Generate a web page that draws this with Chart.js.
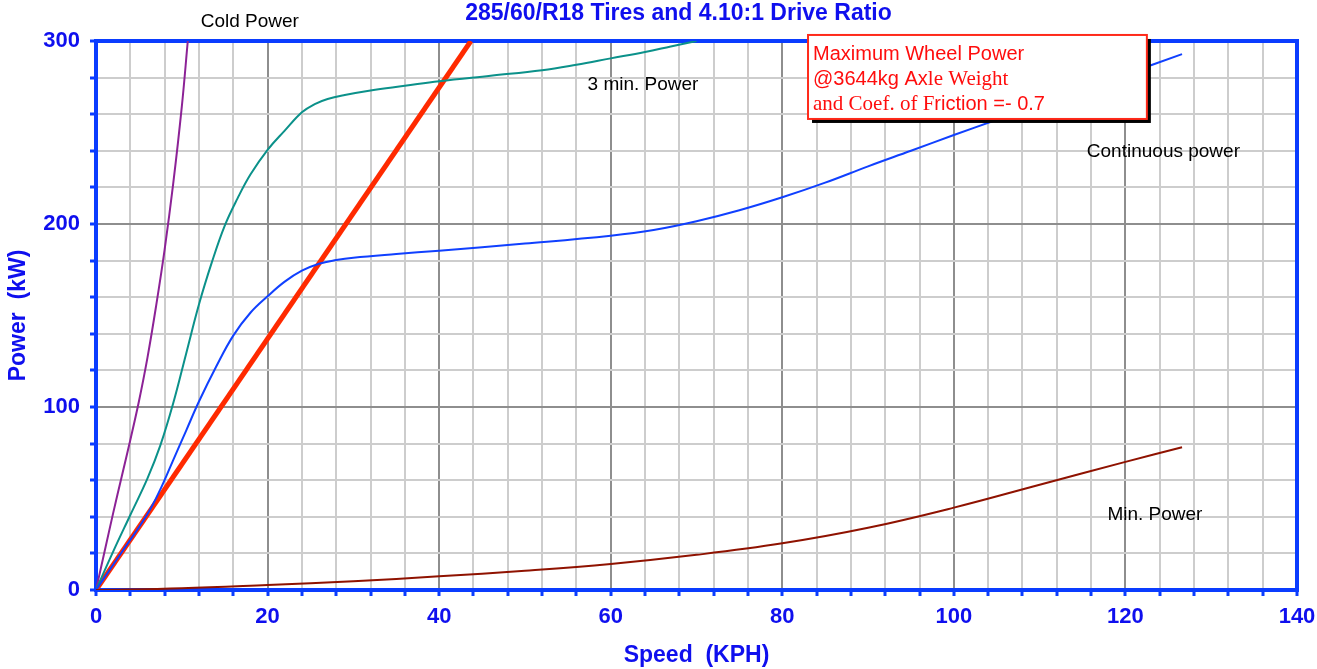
<!DOCTYPE html>
<html>
<head>
<meta charset="utf-8">
<title>Wheel Power vs Speed</title>
<script src="https://cdn.jsdelivr.net/npm/chart.js@4/dist/chart.umd.min.js"></script>
<style>
  html, body { margin: 0; padding: 0; background: #fff; }
</style>
</head>
<body>
<canvas id="powerChart" width="1317" height="669"></canvas>
<script>
// speed (KPH) / power (kW) pairs for each curve
const coldSpeed = [0, 1, 2, 3, 4, 5, 6, 7, 8, 9, 10, 10.7]
const coldPower = [0, 21, 42, 62, 82, 103, 127, 155, 186, 222, 264, 300]

const threeMinSpeed = [0, 2, 4, 6, 7.5, 9, 10.5, 12, 13.5, 15, 16.5, 18, 20, 22, 24, 25.5, 27, 29, 32, 36, 40, 46, 52, 56, 60, 64, 67, 70]
const threeMinPower = [0, 21, 41, 61, 79, 102, 129, 156, 179, 199, 214, 227, 240.5, 251, 261, 265.5, 268.3, 270.5, 273, 275.5, 278, 281, 284, 287, 290.5, 294, 297, 300]

const contSpeed = [0, 3, 6, 7.5, 9, 10.5, 12, 14, 16, 18, 20, 22, 24, 26, 28, 30, 35, 40, 50, 60, 65, 70, 75, 80, 85, 90, 95, 100, 105, 110, 115, 120, 126.6]
const contPower = [0, 20.6, 41.5, 55, 71, 87, 103, 122, 139, 151.5, 160.5, 168.5, 174.5, 178.3, 180.3, 181.6, 183.6, 185.4, 189.3, 193.6, 196.7, 201.5, 207.5, 214.6, 222.6, 231.5, 240, 248.6, 257, 265.3, 273.5, 281.8, 292.8]

const minSpeed = [0, 10, 20, 30, 40, 50, 60, 70, 80, 90, 100, 110, 120, 126.6]
const minPower = [0, 1, 2.8, 4.8, 7.5, 10.5, 14.2, 19.2, 25.5, 34, 45, 57.5, 70, 78]

// traction limit: 3644 kg axle weight, friction 0.7
const wheelSpeed = [0, 43.7]
const wheelPower = [0, 300]

const xTicks = [0, 20, 40, 60, 80, 100, 120, 140]
const yTicks = [0, 100, 200, 300]

const chartTitle = '285/60/R18 Tires and 4.10:1 Drive Ratio'

// curve names placed near the curves (x, y in axis units)
const curveLabels = [
    { text: 'Cold Power', x: 12.2, y: 307.5 },
    { text: '3 min. Power', x: 57.3, y: 273.2 },
    { text: 'Continuous power', x: 115.5, y: 236.6 },
    { text: 'Min. Power', x: 117.9, y: 38.3 }
]

const SANS = '"Liberation Sans", Arial, Helvetica, sans-serif'
const SERIF = '"Liberation Serif", "Times New Roman", serif'
const AXIS_BLUE = '#0a3cff'
const TEXT_BLUE = '#0f0fee'

function toPoints(xs, ys){
    let pts = []
    for(let i = 0; i < xs.length; i++){
        pts.push({ x: xs[i], y: ys[i] })
    }
    return pts
}

function curve(data, color, width, tension){
    return {
        data: data,
        borderColor: color,
        borderWidth: width,
        pointRadius: 0,
        fill: false,
        tension: tension
    }
}

// draws a line of text made of runs in different fonts
function drawRuns(ctx, x, y, runs){
    let cx = x
    runs.forEach(r => {
        ctx.font = r.font
        ctx.fillText(r.text, cx, y)
        cx += ctx.measureText(r.text).width
    })
}

const decorations = {
    id: 'decorations',
    beforeDatasetsDraw(chart){
        const { ctx, chartArea } = chart
        // top and right edges of the frame
        ctx.save()
        ctx.strokeStyle = AXIS_BLUE
        ctx.lineWidth = 4
        ctx.beginPath()
        ctx.moveTo(chartArea.left - 2, chartArea.top)
        ctx.lineTo(chartArea.right, chartArea.top)
        ctx.lineTo(chartArea.right, chartArea.bottom + 2)
        ctx.stroke()
        ctx.restore()
    },
    afterDatasetsDraw(chart){
        const { ctx, scales } = chart
        const xs = scales.x
        const ys = scales.y
        ctx.save()

        ctx.fillStyle = TEXT_BLUE
        ctx.font = 'bold 23px ' + SANS
        ctx.textAlign = 'center'
        ctx.textBaseline = 'alphabetic'
        ctx.fillText(chartTitle, 678.5, 20)

        ctx.fillStyle = '#000'
        ctx.font = '19px ' + SANS
        ctx.textAlign = 'left'
        curveLabels.forEach(l => {
            ctx.fillText(l.text, xs.getPixelForValue(l.x), ys.getPixelForValue(l.y))
        })

        // note box with drop shadow
        const bx = xs.getPixelForValue(83)
        const bx2 = xs.getPixelForValue(122.5)
        const by = ys.getPixelForValue(303.3)
        const by2 = ys.getPixelForValue(257.4)
        ctx.fillStyle = '#000'
        ctx.fillRect(bx + 4, by + 4, bx2 - bx, by2 - by)
        ctx.fillStyle = '#fff'
        ctx.fillRect(bx, by, bx2 - bx, by2 - by)
        ctx.strokeStyle = '#ff2a1a'
        ctx.lineWidth = 2
        ctx.strokeRect(bx, by, bx2 - bx, by2 - by)

        ctx.fillStyle = '#ff0d0d'
        const sans = '20px ' + SANS
        const serif = '21px ' + SERIF
        drawRuns(ctx, bx + 5, by + 25, [{ text: 'Maximum Wheel Power', font: sans }])
        drawRuns(ctx, bx + 5, by + 50, [
            { text: '@3644kg Ax', font: sans },
            { text: 'le Weight', font: serif }
        ])
        drawRuns(ctx, bx + 5, by + 75.5, [
            { text: 'and Coef. of F', font: serif },
            { text: 'riction =- 0.7', font: sans }
        ])
        ctx.restore()
    }
}

const tickFont = { family: SANS, size: 22, weight: 'bold' }
const titleFont = { family: SANS, size: 23, weight: 'bold' }

const config = {
    type: 'line',
    data: {
        datasets: [
            curve(toPoints(minSpeed, minPower), '#8f1200', 2, 0.4),
            curve(toPoints(contSpeed, contPower), '#1040ff', 2, 0.4),
            curve(toPoints(threeMinSpeed, threeMinPower), '#0b918a', 2, 0.4),
            curve(toPoints(coldSpeed, coldPower), '#8c2296', 2, 0.4),
            curve(toPoints(wheelSpeed, wheelPower), '#ff2a00', 5, 0)
        ]
    },
    options: {
        responsive: false,
        animation: false,
        layout: { padding: { top: 41, right: 20, left: 0, bottom: 0 } },
        plugins: {
            legend: { display: false },
            tooltip: { enabled: false }
        },
        scales: {
            x: {
                type: 'linear',
                min: 0,
                max: 140,
                afterFit: s => {
                    s.height = 79
                    s.paddingLeft = 0
                    s.paddingRight = 0
                },
                ticks: {
                    stepSize: 4,
                    autoSkip: false,
                    maxRotation: 0,
                    padding: 8,
                    color: TEXT_BLUE,
                    font: tickFont,
                    callback: v => xTicks.includes(v) ? v : ''
                },
                grid: {
                    color: c => xTicks.includes(c.tick.value) ? '#8e8e8e' : '#cdcdcd',
                    lineWidth: 2,
                    tickColor: AXIS_BLUE,
                    tickLength: 6,
                    tickWidth: 3
                },
                border: { color: AXIS_BLUE, width: 4 },
                title: {
                    display: true,
                    text: 'Speed  (KPH)',
                    color: TEXT_BLUE,
                    font: titleFont,
                    padding: { top: 0, bottom: 0 }
                }
            },
            y: {
                min: 0,
                max: 300,
                afterFit: s => { s.width = 96 },
                ticks: {
                    stepSize: 20,
                    autoSkip: false,
                    padding: 10,
                    color: TEXT_BLUE,
                    font: tickFont,
                    callback: v => yTicks.includes(v) ? v : ''
                },
                grid: {
                    color: c => yTicks.includes(c.tick.value) ? '#8e8e8e' : '#cdcdcd',
                    lineWidth: 2,
                    tickColor: AXIS_BLUE,
                    tickLength: 6,
                    tickWidth: 3
                },
                border: { color: AXIS_BLUE, width: 4 },
                title: {
                    display: true,
                    text: 'Power  (kW)',
                    color: TEXT_BLUE,
                    font: titleFont,
                    padding: { top: 5, bottom: 0 }
                }
            }
        }
    },
    plugins: [decorations]
}

const chart = new Chart(document.getElementById('powerChart').getContext('2d'), config)
</script>
</body>
</html>
